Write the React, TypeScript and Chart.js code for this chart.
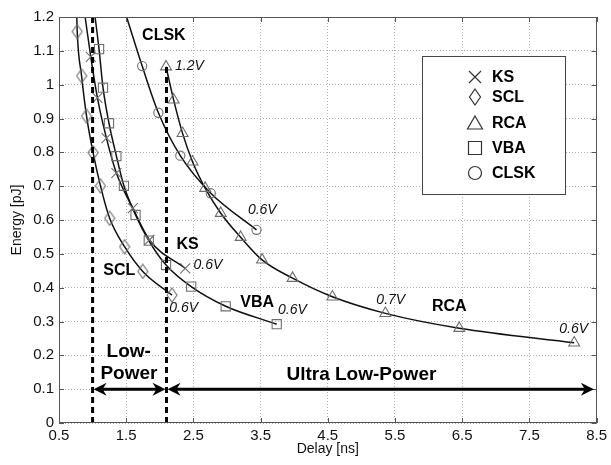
import { useEffect, useRef } from "react";
import { Chart, registerables } from "chart.js";

Chart.register(...registerables);

// ---------- data ----------
const seriesNames = ["KS", "SCL", "RCA", "VBA", "CLSK"];

const ksDelay = [0.973, 1.072, 1.206, 1.354, 1.599, 1.846, 2.379];
const ksEnergy = [1.082, 0.961, 0.842, 0.739, 0.635, 0.541, 0.457];

const sclDelay = [0.771, 0.836, 0.91, 1.007, 1.117, 1.254, 1.476, 1.747, 2.182];
const sclEnergy = [1.157, 1.026, 0.907, 0.799, 0.701, 0.605, 0.521, 0.448, 0.378];

const rcaDelay = [2.093, 2.206, 2.339, 2.487, 2.675, 2.907, 3.203, 3.522, 3.976, 4.568, 5.357, 6.457, 8.167];
const rcaEnergy = [1.053, 0.955, 0.856, 0.772, 0.694, 0.62, 0.549, 0.482, 0.428, 0.373, 0.324, 0.28, 0.237];

const vbaDelay = [1.096, 1.155, 1.244, 1.354, 1.466, 1.639, 1.836, 2.093, 2.467, 2.981, 3.74];
const vbaEnergy = [1.105, 0.991, 0.886, 0.789, 0.701, 0.615, 0.539, 0.467, 0.403, 0.345, 0.292];

const clskDelay = [1.738, 1.979, 2.305, 2.759, 3.439];
const clskEnergy = [1.055, 0.917, 0.79, 0.679, 0.571];

// where each fitted curve leaves the top edge of the plot (NaN: curve starts at its first marker)
const curveTopDelay = [0.889, 0.765, NaN, 1.037, 1.506];
const curveTopEnergy = 1.2;

// Low-power / ultra-low-power region boundaries
const regionDelay = [1.0, 2.1];
const regionTopEnergy = [1.2, 1.062];
const arrowEnergy = 0.1;
const arrowEndDelay = 8.46;

// axis ticks
const xTickValues = [0.5, 1.5, 2.5, 3.5, 4.5, 5.5, 6.5, 7.5, 8.5];
const xTickLabels = ["0.5", "1.5", "2.5", "3.5", "4.5", "5.5", "6.5", "7.5", "8.5"];
const yTickValues = [0, 0.1, 0.2, 0.3, 0.4, 0.5, 0.6, 0.7, 0.8, 0.9, 1.0, 1.1, 1.2];
const yTickLabels = ["0", "0.1", "0.2", "0.3", "0.4", "0.5", "0.6", "0.7", "0.8", "0.9", "1", "1.1", "1.2"];

// text annotations (data coordinates)
const curveLabels = [
  { text: "CLSK", x: 2.061, y: 1.145, kind: "name" },
  { text: "1.2V", x: 2.226, y: 1.054, kind: "volt" },
  { text: "0.6V", x: 3.311, y: 0.63, kind: "volt" },
  { text: "KS", x: 2.413, y: 0.528, kind: "name" },
  { text: "0.6V", x: 2.501, y: 0.467, kind: "volt" },
  { text: "SCL", x: 1.398, y: 0.45, kind: "name" },
  { text: "0.6V", x: 2.142, y: 0.339, kind: "volt" },
  { text: "VBA", x: 3.448, y: 0.356, kind: "name" },
  { text: "0.6V", x: 3.759, y: 0.334, kind: "volt" },
  { text: "0.7V", x: 5.223, y: 0.364, kind: "volt" },
  { text: "RCA", x: 6.309, y: 0.344, kind: "name" },
  { text: "0.6V", x: 7.945, y: 0.277, kind: "volt" },
  { text: "Low-", x: 1.537, y: 0.21, kind: "region" },
  { text: "Power", x: 1.54, y: 0.145, kind: "region" },
  { text: "Ultra Low-Power", x: 5.0, y: 0.142, kind: "region" },
];

const FONT = "'Liberation Sans', Arial, Helvetica, sans-serif";

function makeDiamond(color: string) {
  const c = document.createElement("canvas");
  c.width = 12;
  c.height = 16;
  const g = c.getContext("2d")!;
  g.strokeStyle = color;
  g.lineWidth = 1.1;
  g.beginPath();
  g.moveTo(6, 1);
  g.lineTo(11, 8);
  g.lineTo(6, 15);
  g.lineTo(1, 8);
  g.closePath();
  g.stroke();
  return c;
}

function drawSymbol(ctx: CanvasRenderingContext2D, kind: number, x: number, y: number) {
  ctx.beginPath();
  if (kind === 0) {
    ctx.moveTo(x - 6, y - 6);
    ctx.lineTo(x + 6, y + 6);
    ctx.moveTo(x + 6, y - 6);
    ctx.lineTo(x - 6, y + 6);
  } else if (kind === 1) {
    ctx.moveTo(x, y - 8);
    ctx.lineTo(x + 5.5, y);
    ctx.lineTo(x, y + 8);
    ctx.lineTo(x - 5.5, y);
    ctx.closePath();
  } else if (kind === 2) {
    ctx.moveTo(x, y - 7);
    ctx.lineTo(x + 7.5, y + 6);
    ctx.lineTo(x - 7.5, y + 6);
    ctx.closePath();
  } else if (kind === 3) {
    ctx.rect(x - 6.5, y - 6.5, 13, 13);
  } else {
    ctx.arc(x, y, 6.5, 0, Math.PI * 2);
  }
  ctx.stroke();
}

function arrowHead(ctx: CanvasRenderingContext2D, tipX: number, y: number, dir: number) {
  const L = 13;
  const W = 6.5;
  const notch = 4;
  ctx.beginPath();
  ctx.moveTo(tipX, y);
  ctx.lineTo(tipX - dir * L, y - W);
  ctx.lineTo(tipX - dir * (L - notch), y);
  ctx.lineTo(tipX - dir * L, y + W);
  ctx.closePath();
  ctx.fill();
}

const annotationPlugin = {
  id: "annotations",
  afterDatasetsDraw(chart: any) {
    const { ctx, chartArea: a, scales } = chart;
    const xs = scales.x;
    const ys = scales.y;
    ctx.save();

    // plot box
    ctx.strokeStyle = "#555";
    ctx.lineWidth = 1;
    ctx.setLineDash([]);
    ctx.strokeRect(Math.round(a.left) + 0.5, Math.round(a.top) + 0.5, Math.round(a.width) - 1, Math.round(a.height) - 1);

    // inner tick marks
    ctx.beginPath();
    yTickValues.forEach((v) => {
      const py = Math.round(ys.getPixelForValue(v)) + 0.5;
      ctx.moveTo(a.left, py);
      ctx.lineTo(a.left + 5, py);
      ctx.moveTo(a.right, py);
      ctx.lineTo(a.right - 5, py);
    });
    xTickValues.forEach((v) => {
      const px = Math.round(xs.getPixelForValue(v)) + 0.5;
      ctx.moveTo(px, a.bottom);
      ctx.lineTo(px, a.bottom - 5);
      ctx.moveTo(px, a.top);
      ctx.lineTo(px, a.top + 5);
    });
    ctx.stroke();

    // region arrows
    const ay = ys.getPixelForValue(arrowEnergy);
    const x1 = xs.getPixelForValue(regionDelay[0]);
    const x2 = xs.getPixelForValue(regionDelay[1]);
    const x3 = xs.getPixelForValue(arrowEndDelay);
    ctx.fillStyle = "#000";
    ctx.strokeStyle = "#000";
    ctx.lineWidth = 3;
    ctx.beginPath();
    ctx.moveTo(x1 + 6, ay);
    ctx.lineTo(x2 - 6, ay);
    ctx.moveTo(x2 + 6, ay);
    ctx.lineTo(x3 - 6, ay);
    ctx.stroke();
    arrowHead(ctx, x1 + 1, ay, -1);
    arrowHead(ctx, x2 - 1, ay, 1);
    arrowHead(ctx, x2 + 1, ay, -1);
    arrowHead(ctx, x3, ay, 1);

    // labels
    curveLabels.forEach((l) => {
      const px = xs.getPixelForValue(l.x);
      const py = ys.getPixelForValue(l.y);
      ctx.fillStyle = "#000";
      ctx.textBaseline = "middle";
      if (l.kind === "name") {
        ctx.font = `bold 16px ${FONT}`;
        ctx.textAlign = "center";
      } else if (l.kind === "volt") {
        ctx.font = `italic 14px ${FONT}`;
        ctx.textAlign = "left";
        ctx.fillStyle = "#111";
      } else {
        ctx.font = `bold 19px ${FONT}`;
        ctx.textAlign = "center";
      }
      ctx.fillText(l.text, px, py);
    });

    // axis titles
    ctx.fillStyle = "#111";
    ctx.font = `14px ${FONT}`;
    ctx.textAlign = "center";
    ctx.textBaseline = "middle";
    ctx.fillText("Delay [ns]", (a.left + a.right) / 2, 449);
    ctx.save();
    ctx.translate(17, (a.top + a.bottom) / 2);
    ctx.rotate(-Math.PI / 2);
    ctx.fillText("Energy [pJ]", 0, 0);
    ctx.restore();

    // legend
    const bx = Math.round(a.right) - 175;
    const by = Math.round(a.top) + 39;
    const bw = 143;
    const bh = 138;
    ctx.fillStyle = "#fff";
    ctx.fillRect(bx, by, bw, bh);
    ctx.strokeStyle = "#444";
    ctx.lineWidth = 1;
    ctx.strokeRect(bx + 0.5, by + 0.5, bw, bh);
    const rowY = [21, 41, 67, 92, 117];
    seriesNames.forEach((name, i) => {
      const yy = by + rowY[i];
      ctx.strokeStyle = "#333";
      ctx.lineWidth = 1.2;
      drawSymbol(ctx, i, bx + 53, yy);
      ctx.fillStyle = "#000";
      ctx.font = `bold 16px ${FONT}`;
      ctx.textAlign = "left";
      ctx.textBaseline = "middle";
      ctx.fillText(name, bx + 70, yy + 1);
    });

    ctx.restore();
  },
};

export default function App() {
  const ref = useRef<HTMLCanvasElement | null>(null);

  useEffect(() => {
    if (!ref.current) return;
    const markerColor = "#6e6e6e";
    const diamond = makeDiamond(markerColor);
    const delays = [ksDelay, sclDelay, rcaDelay, vbaDelay, clskDelay];
    const energies = [ksEnergy, sclEnergy, rcaEnergy, vbaEnergy, clskEnergy];
    const styles: any[] = ["crossRot", diamond, "triangle", "rect", "circle"];
    const radii = [7, 7, 6.3, 6.5, 4.6];

    const datasets: any[] = [];
    seriesNames.forEach((name, i) => {
      const pts = delays[i].map((d, j) => ({ x: d, y: energies[i][j] }));
      const curve = isNaN(curveTopDelay[i]) ? pts : [{ x: curveTopDelay[i], y: curveTopEnergy }, ...pts];
      datasets.push({
        label: name + " fit",
        data: curve,
        showLine: true,
        borderColor: "#111",
        borderWidth: 1.5,
        pointRadius: 0,
        cubicInterpolationMode: "monotone",
        order: 2,
      });
      datasets.push({
        label: name,
        data: pts,
        showLine: false,
        pointStyle: styles[i],
        pointRadius: radii[i],
        pointBorderColor: markerColor,
        pointBackgroundColor: "rgba(0,0,0,0)",
        pointBorderWidth: 1.1,
        order: 1,
      });
    });
    regionDelay.forEach((d, i) => {
      datasets.push({
        label: "region " + i,
        data: [
          { x: d, y: 0 },
          { x: d, y: regionTopEnergy[i] },
        ],
        showLine: true,
        borderColor: "#000",
        borderWidth: 3,
        borderDash: [6, 4],
        pointRadius: 0,
        tension: 0,
        cubicInterpolationMode: "default",
        order: 0,
      });
    });

    const chart = new Chart(ref.current, {
      type: "scatter",
      data: { datasets },
      options: {
        animation: false,
        responsive: false,
        devicePixelRatio: 1,
        events: [],
        layout: { padding: { left: 0, right: 11, top: 17, bottom: 0 } },
        plugins: { legend: { display: false }, tooltip: { enabled: false } },
        scales: {
          x: {
            type: "linear",
            min: 0.5,
            max: 8.5,
            afterBuildTicks: (s: any) => {
              s.ticks = xTickValues.map((v) => ({ value: v }));
            },
            afterFit: (s: any) => {
              s.height = 42;
            },
            ticks: {
              autoSkip: false,
              maxRotation: 0,
              padding: 4,
              color: "#111",
              font: { family: FONT, size: 15 },
              callback: (_v: any, i: number) => xTickLabels[i],
            },
            grid: { color: "#b4b4b4", lineWidth: 1, drawTicks: false },
            border: { display: false, dash: [1, 2] },
          },
          y: {
            type: "linear",
            min: 0,
            max: 1.2,
            afterBuildTicks: (s: any) => {
              s.ticks = yTickValues.map((v) => ({ value: v }));
            },
            afterFit: (s: any) => {
              s.width = 59;
            },
            ticks: {
              autoSkip: false,
              padding: 5,
              color: "#111",
              font: { family: FONT, size: 15 },
              callback: (_v: any, i: number) => yTickLabels[i],
            },
            grid: { color: "#b4b4b4", lineWidth: 1, drawTicks: false },
            border: { display: false, dash: [1, 2] },
          },
        },
      },
      plugins: [annotationPlugin],
    });
    return () => chart.destroy();
  }, []);

  return (
    <div style={{ position: "absolute", left: 0, top: 0, width: 611, height: 465, background: "#fff" }}>
      <canvas ref={ref} width={611} height={465} style={{ width: 611, height: 465, display: "block" }} />
    </div>
  );
}
